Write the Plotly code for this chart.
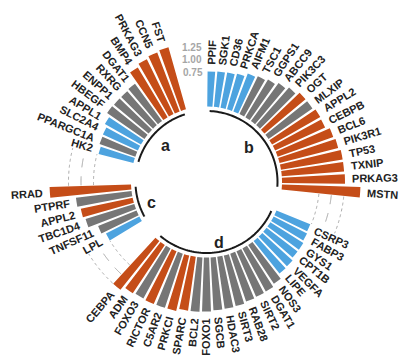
import numpy as np
import plotly.graph_objects as go

# Genes per group, listed clockwise starting at 12 o'clock (groups b, d, c, a)
genes_b = ["PPIF", "SGK1", "CD36", "PRKCA", "AIFM1", "TSC1", "GGPS1", "ABCC9", "PIK3C3",
           "OGT", "MLXIP", "APPL2", "CEBPB", "BCL6", "PIK3R1", "TP53", "TXNIP", "PRKAG3", "MSTN"]
values_b = [0.70, 0.71, 0.72, 0.74, 0.81, 0.84, 0.88, 0.94, 1.00,
            1.07, 1.07, 1.11, 1.10, 1.18, 1.21, 1.25, 1.25, 1.26, 1.57]
status_b = ["down"] * 5 + ["ns"] * 4 + ["up", "ns"] + ["up"] * 8

genes_d = ["CSRP3", "FABP3", "GYS1", "CPT1B", "VEGFA", "LIPE", "NOS3", "DGAT1", "SIRT2", "RAB28",
           "SIRT3", "HDAC3", "SGCB", "FOXO1", "BCL2", "SPARC", "PRKCI", "C5AR2", "RICTOR", "FOXO3",
           "ADM", "CEBPA"]
values_d = [0.73, 0.75, 0.78, 0.78, 0.82, 0.83, 0.93, 0.98, 0.99, 1.01,
            1.04, 1.05, 1.06, 1.08, 1.09, 1.09, 1.14, 1.14, 1.15, 1.14,
            1.16, 1.25]
status_d = ["down"] * 6 + ["ns"] * 9 + ["up", "up", "ns", "up", "ns", "up", "up"]

genes_c = ["LPL", "TNFSF11", "TBC1D4", "APPL2", "PTPRF", "RRAD"]
values_c = [0.75, 0.83, 1.02, 1.06, 1.12, 1.63]
status_c = ["down", "ns", "ns", "up", "ns", "up"]

genes_a = ["HK2", "PPARGC1A", "SLC2A4", "APPL1", "HBEGF", "ENPP1", "RXRG", "DGAT1",
           "BMP4", "PRKAG3", "CCN5", "FST"]
values_a = [0.72, 0.76, 0.77, 0.83, 0.91, 0.90, 0.90, 0.92, 1.16, 1.22, 1.26, 1.29]
status_a = ["down", "ns", "down", "down", "ns", "ns", "ns", "ns", "up", "up", "up", "up"]

group_names = ["b", "d", "c", "a"]
tick_values = [0.75, 1.00, 1.25]
tick_labels = ["0.75", "1.00", "1.25"]

COLORS = {"up": "#C54D18", "ns": "#767676", "down": "#4DA3DF"}
TEXT = "#222222"
FONT = "Liberation Sans, Arial, sans-serif"

groups = [
    (genes_b, values_b, status_b),
    (genes_d, values_d, status_d),
    (genes_c, values_c, status_c),
    (genes_a, values_a, status_a),
]
N_EMPTY = 3  # blank slots after each group
n_slots = sum(len(g[0]) + N_EMPTY for g in groups)
step = 360.0 / n_slots
theta0 = step / 2

# radial scale: r from R0 (centre) to R1 (edge of plotting circle)
R0, R1 = -1.51, 1.89
PX_PER_UNIT = 50.0

# slot positions
thetas, vals, cols, labels, grp_slots = [], [], [], [], []
k = 0
for genes, values, status in groups:
    first = k
    for g, v, s in zip(genes, values, status):
        thetas.append(theta0 + k * step)
        vals.append(v)
        cols.append(COLORS[s])
        labels.append(g)
        k += 1
    grp_slots.append((first, k - 1))
    k += N_EMPTY


def to_xy(theta_deg, r):
    """Polar (clockwise from 12 o'clock) to the cartesian overlay's units."""
    d = r - R0
    a = np.deg2rad(theta_deg)
    return d * np.sin(a), d * np.cos(a)


fig = go.Figure()

# dotted reference arcs in the gaps between groups (not in the final gap)
dash_styles = ["dot", "dash", "dot"]
for gi in range(len(groups) - 1):
    k_last = grp_slots[gi][1]
    k_next = grp_slots[gi + 1][0]
    th = np.linspace(theta0 + (k_last + 0.45) * step, theta0 + (k_next - 0.45) * step, 40)
    for tv, ds in zip(tick_values, dash_styles):
        fig.add_trace(go.Scatterpolar(
            r=[tv] * len(th), theta=th, mode="lines",
            line=dict(color="#A8A8A8", width=1, dash=ds),
            hoverinfo="skip", showlegend=False))

# bars
fig.add_trace(go.Barpolar(
    r=vals, theta=thetas, width=step * 0.78,
    marker=dict(color=cols, line=dict(width=0)),
    hovertext=labels, showlegend=False))

annotations = []

# group arcs under each group and the group letters
for (k1, k2), name in zip(grp_slots, group_names):
    th = np.linspace(theta0 + k1 * step, theta0 + k2 * step, 60)
    fig.add_trace(go.Scatterpolar(
        r=[-0.09] * len(th), theta=th, mode="lines",
        line=dict(color="#1A1A1A", width=2),
        hoverinfo="skip", showlegend=False))
    lx, ly = to_xy(theta0 + (k1 + k2) / 2 * step, -0.36)
    annotations.append(dict(
        x=lx, y=ly, xref="x", yref="y", text=name, showarrow=False,
        xanchor="center", yanchor="middle", yshift=-4,
        font=dict(family=FONT, size=16, color=TEXT, weight="bold")))

# radial tick labels in the last gap, just left of 12 o'clock
for tv, tl in zip(tick_values, tick_labels):
    tx, ty = to_xy(359.0, tv)
    annotations.append(dict(
        x=tx, y=ty, xref="x", yref="y", text=tl, showarrow=False,
        xanchor="right", yanchor="middle", yshift=-3,
        font=dict(family=FONT, size=10, color="#A6A6A6", weight="bold")))

# approximate bold Arial advance widths (per 1000 em) used to centre rotated labels
W = dict(A=722, B=722, C=722, D=722, E=667, F=611, G=778, H=722, I=278, J=556, K=722,
         L=611, M=833, N=722, O=778, P=667, Q=778, R=722, S=667, T=611, U=722, V=667,
         W=944, X=667, Y=667, Z=611)
LABEL_SIZE = 11


def text_width_px(s):
    return sum(W.get(ch, 556) for ch in s) / 1000.0 * LABEL_SIZE


GAP = 0.14
for th, v, lab in zip(thetas, vals, labels):
    x, y = to_xy(th, v + GAP + text_width_px(lab) / PX_PER_UNIT / 2)
    ang = th - 90 if th < 180 else th - 270
    annotations.append(dict(
        x=x, y=y, xref="x", yref="y", text=lab, showarrow=False,
        textangle=ang, xanchor="center", yanchor="middle",
        font=dict(family=FONT, size=LABEL_SIZE, color=TEXT, weight="bold")))

# plotting circle: centre (206.5, 182) px, radius 170 px in a 401 x 355 page
W_PX, H_PX = 401, 355
cx, cy, rad_px = 206.5, 182.0, 170.0
dom_x = [(cx - rad_px) / W_PX, (cx + rad_px) / W_PX]
dom_y = [1 - (cy + rad_px) / H_PX, 1 - (cy - rad_px) / H_PX]

# full-page cartesian overlay sharing the polar centre and scale, used for text
x_range = [-cx / PX_PER_UNIT, (W_PX - cx) / PX_PER_UNIT]
y_range = [-(H_PX - cy) / PX_PER_UNIT, cy / PX_PER_UNIT]

fig.update_layout(
    width=W_PX, height=H_PX,
    margin=dict(l=0, r=0, t=0, b=0),
    paper_bgcolor="white", plot_bgcolor="rgba(0,0,0,0)",
    showlegend=False,
    polar=dict(
        domain=dict(x=dom_x, y=dom_y),
        bgcolor="white",
        radialaxis=dict(range=[R0, R1], showgrid=False, showline=False,
                        showticklabels=False, ticks=""),
        angularaxis=dict(rotation=90, direction="clockwise", showgrid=False,
                         showline=False, showticklabels=False, ticks=""),
    ),
    xaxis=dict(domain=[0, 1], range=x_range, visible=False, fixedrange=True),
    yaxis=dict(domain=[0, 1], range=y_range, visible=False, fixedrange=True),
    annotations=annotations,
)

fig.write_html("out.html")
